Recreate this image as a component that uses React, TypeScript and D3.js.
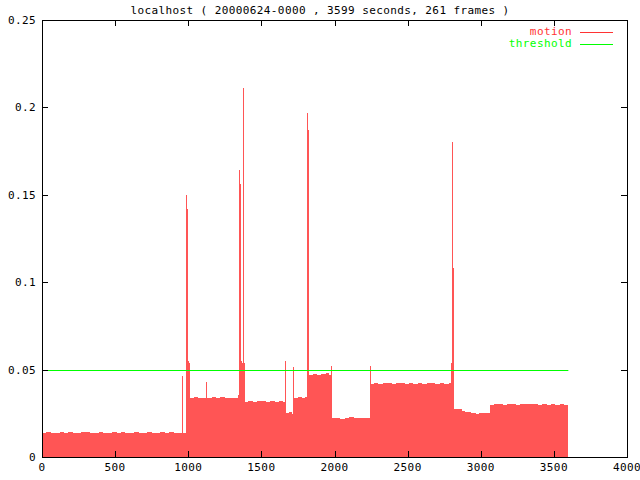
import React from 'react';
import * as d3 from 'd3';

const chartTitle = 'localhost ( 20000624-0000 , 3599 seconds, 261 frames )';
const seriesNames = ['motion', 'threshold'];
const endTime = 3599;
const thresholdValue = 0.05;
const xTicks = [0, 500, 1000, 1500, 2000, 2500, 3000, 3500, 4000];
const yTicks = [0, 0.05, 0.1, 0.15, 0.2, 0.25];
const yTickLabels = ['0', '0.05', '0.1', '0.15', '0.2', '0.25'];

// step data: each value holds from its time until the next time
const times = [
  0, 30, 60, 90, 120, 150, 180, 210, 240, 270, 300, 330, 360, 390, 420, 450, 480, 510, 540, 570,
  600, 630, 660, 690, 720, 750, 780, 810, 840, 870, 900, 930, 954, 961, 982, 984, 991, 997, 1001, 1005,
  1012, 1040, 1070, 1100, 1119, 1126, 1160, 1190, 1220, 1250, 1280, 1310, 1330, 1340, 1344, 1351, 1358, 1363, 1367, 1372,
  1379, 1386, 1410, 1440, 1470, 1500, 1530, 1560, 1590, 1620, 1650, 1660, 1667, 1690, 1710, 1719, 1726, 1750, 1780, 1800,
  1814, 1821, 1828, 1850, 1880, 1910, 1940, 1960, 1978, 1985, 2010, 2040, 2070, 2100, 2130, 2160, 2190, 2220, 2240, 2247,
  2270, 2300, 2330, 2360, 2390, 2420, 2450, 2480, 2510, 2540, 2570, 2600, 2630, 2660, 2690, 2720, 2750, 2780, 2795, 2800,
  2807, 2814, 2820, 2850, 2870, 2890, 2910, 2930, 2950, 2970, 2990, 3010, 3030, 3050, 3065, 3090, 3120, 3150, 3180, 3210,
  3240, 3270, 3300, 3330, 3360, 3390, 3420, 3450, 3480, 3510, 3540, 3570,
];
const motion = [
  0.0138, 0.0142, 0.0140, 0.0137, 0.0141, 0.0139, 0.0143, 0.0138, 0.0140, 0.0142, 0.0145, 0.0139, 0.0137, 0.0141, 0.0140, 0.0138, 0.0142, 0.0139, 0.0141, 0.0137,
  0.0140, 0.0143, 0.0139, 0.0138, 0.0141, 0.0140, 0.0137, 0.0142, 0.0139, 0.0141, 0.0138, 0.0140, 0.0465, 0.0139, 0.055, 0.150, 0.142, 0.072, 0.055, 0.054,
  0.0338, 0.0342, 0.0336, 0.0340, 0.043, 0.0339, 0.0341, 0.0337, 0.0343, 0.0338, 0.0340, 0.0336, 0.0339, 0.0355, 0.164, 0.156, 0.058, 0.055, 0.054, 0.211,
  0.054, 0.0315, 0.0320, 0.0313, 0.0318, 0.0322, 0.0316, 0.0319, 0.0314, 0.0321, 0.0317, 0.055, 0.0250, 0.0255, 0.0248, 0.0515, 0.0340, 0.0345, 0.0338, 0.0342,
  0.197, 0.187, 0.0470, 0.0475, 0.0468, 0.0472, 0.0478, 0.0470, 0.052, 0.0222, 0.0225, 0.0220, 0.0223, 0.0226, 0.0221, 0.0224, 0.0222, 0.0225, 0.052, 0.0420,
  0.0425, 0.0418, 0.0422, 0.0426, 0.0419, 0.0423, 0.0421, 0.0417, 0.0424, 0.0420, 0.0426, 0.0419, 0.0423, 0.0421, 0.0418, 0.0424, 0.0420, 0.0422, 0.054, 0.180,
  0.108, 0.054, 0.0272, 0.0275, 0.0262, 0.0258, 0.0255, 0.0250, 0.0253, 0.0248, 0.0252, 0.0249, 0.0254, 0.0251, 0.0298, 0.0302, 0.0305, 0.0299, 0.0303, 0.0306,
  0.0300, 0.0304, 0.0301, 0.0305, 0.0302, 0.0299, 0.0303, 0.0300, 0.0304, 0.0298, 0.0301, 0.0299,
];

const FONT = '"DejaVu Sans Mono", "Liberation Mono", monospace';
const RED = '#ff5555';
const GREEN = '#00ff00';
const LEGEND_RED = '#ff3333';

export default function App() {
  const W = 640, H = 480;
  const left = 42, right = 627, top = 20, bottom = 457;
  const x = d3.scaleLinear().domain([0, 4000]).range([left, right]);
  const y = d3.scaleLinear().domain([0, 0.25]).range([bottom, top]);

  const pts: [number, number][] = times.map((t, i) => [t, motion[i]] as [number, number]);
  pts.push([endTime, motion[motion.length - 1]]);
  const area = d3
    .area<[number, number]>()
    .x((d) => x(d[0]))
    .y0(y(0))
    .y1((d) => y(d[1]))
    .curve(d3.curveStepAfter);

  const tick = 6;
  const textStyle = { fontFamily: FONT, fontSize: 11, letterSpacing: 0.4 } as React.CSSProperties;
  const thrY = Math.round(y(thresholdValue));

  return (
    <svg width={W} height={H} style={{ position: 'absolute', left: 0, top: 0, background: '#fff' }}>
      <rect x={0} y={0} width={W} height={H} fill="#fff" />
      <path d={area(pts) || ''} fill={RED} stroke="none" shapeRendering="crispEdges" />
      <rect x={x(0)} y={thrY} width={x(endTime) - x(0)} height={1} fill={GREEN} />
      <g stroke="#000" strokeWidth={1} fill="none">
        <rect x={left + 0.5} y={top + 0.5} width={right - left} height={bottom - top} />
        {xTicks.map((t) => {
          const px = Math.round(x(t)) + 0.5;
          return (
            <g key={'xt' + t}>
              <path d={`M${px},${bottom}V${bottom - tick}`} />
              <path d={`M${px},${top}V${top + tick}`} />
            </g>
          );
        })}
        {yTicks.map((t) => {
          const py = Math.round(y(t)) + 0.5;
          return (
            <g key={'yt' + t}>
              <path d={`M${left},${py}H${left + tick}`} />
              <path d={`M${right},${py}H${right - tick}`} />
            </g>
          );
        })}
      </g>
      <g style={textStyle} fill="#000">
        <text x={W / 2} y={14} textAnchor="middle">{chartTitle}</text>
        {xTicks.map((t) => (
          <text key={'xl' + t} x={x(t)} y={471} textAnchor="middle">{String(t)}</text>
        ))}
        {yTicks.map((t, i) => (
          <text key={'yl' + t} x={36} y={y(t) + 4} textAnchor="end">{yTickLabels[i]}</text>
        ))}
        <text x={572} y={35} textAnchor="end" fill={LEGEND_RED}>{seriesNames[0]}</text>
        <text x={572} y={47} textAnchor="end" fill={GREEN}>{seriesNames[1]}</text>
      </g>
      <rect x={580} y={32} width={33} height={1} fill={LEGEND_RED} />
      <rect x={580} y={44} width={33} height={1} fill={GREEN} />
    </svg>
  );
}
